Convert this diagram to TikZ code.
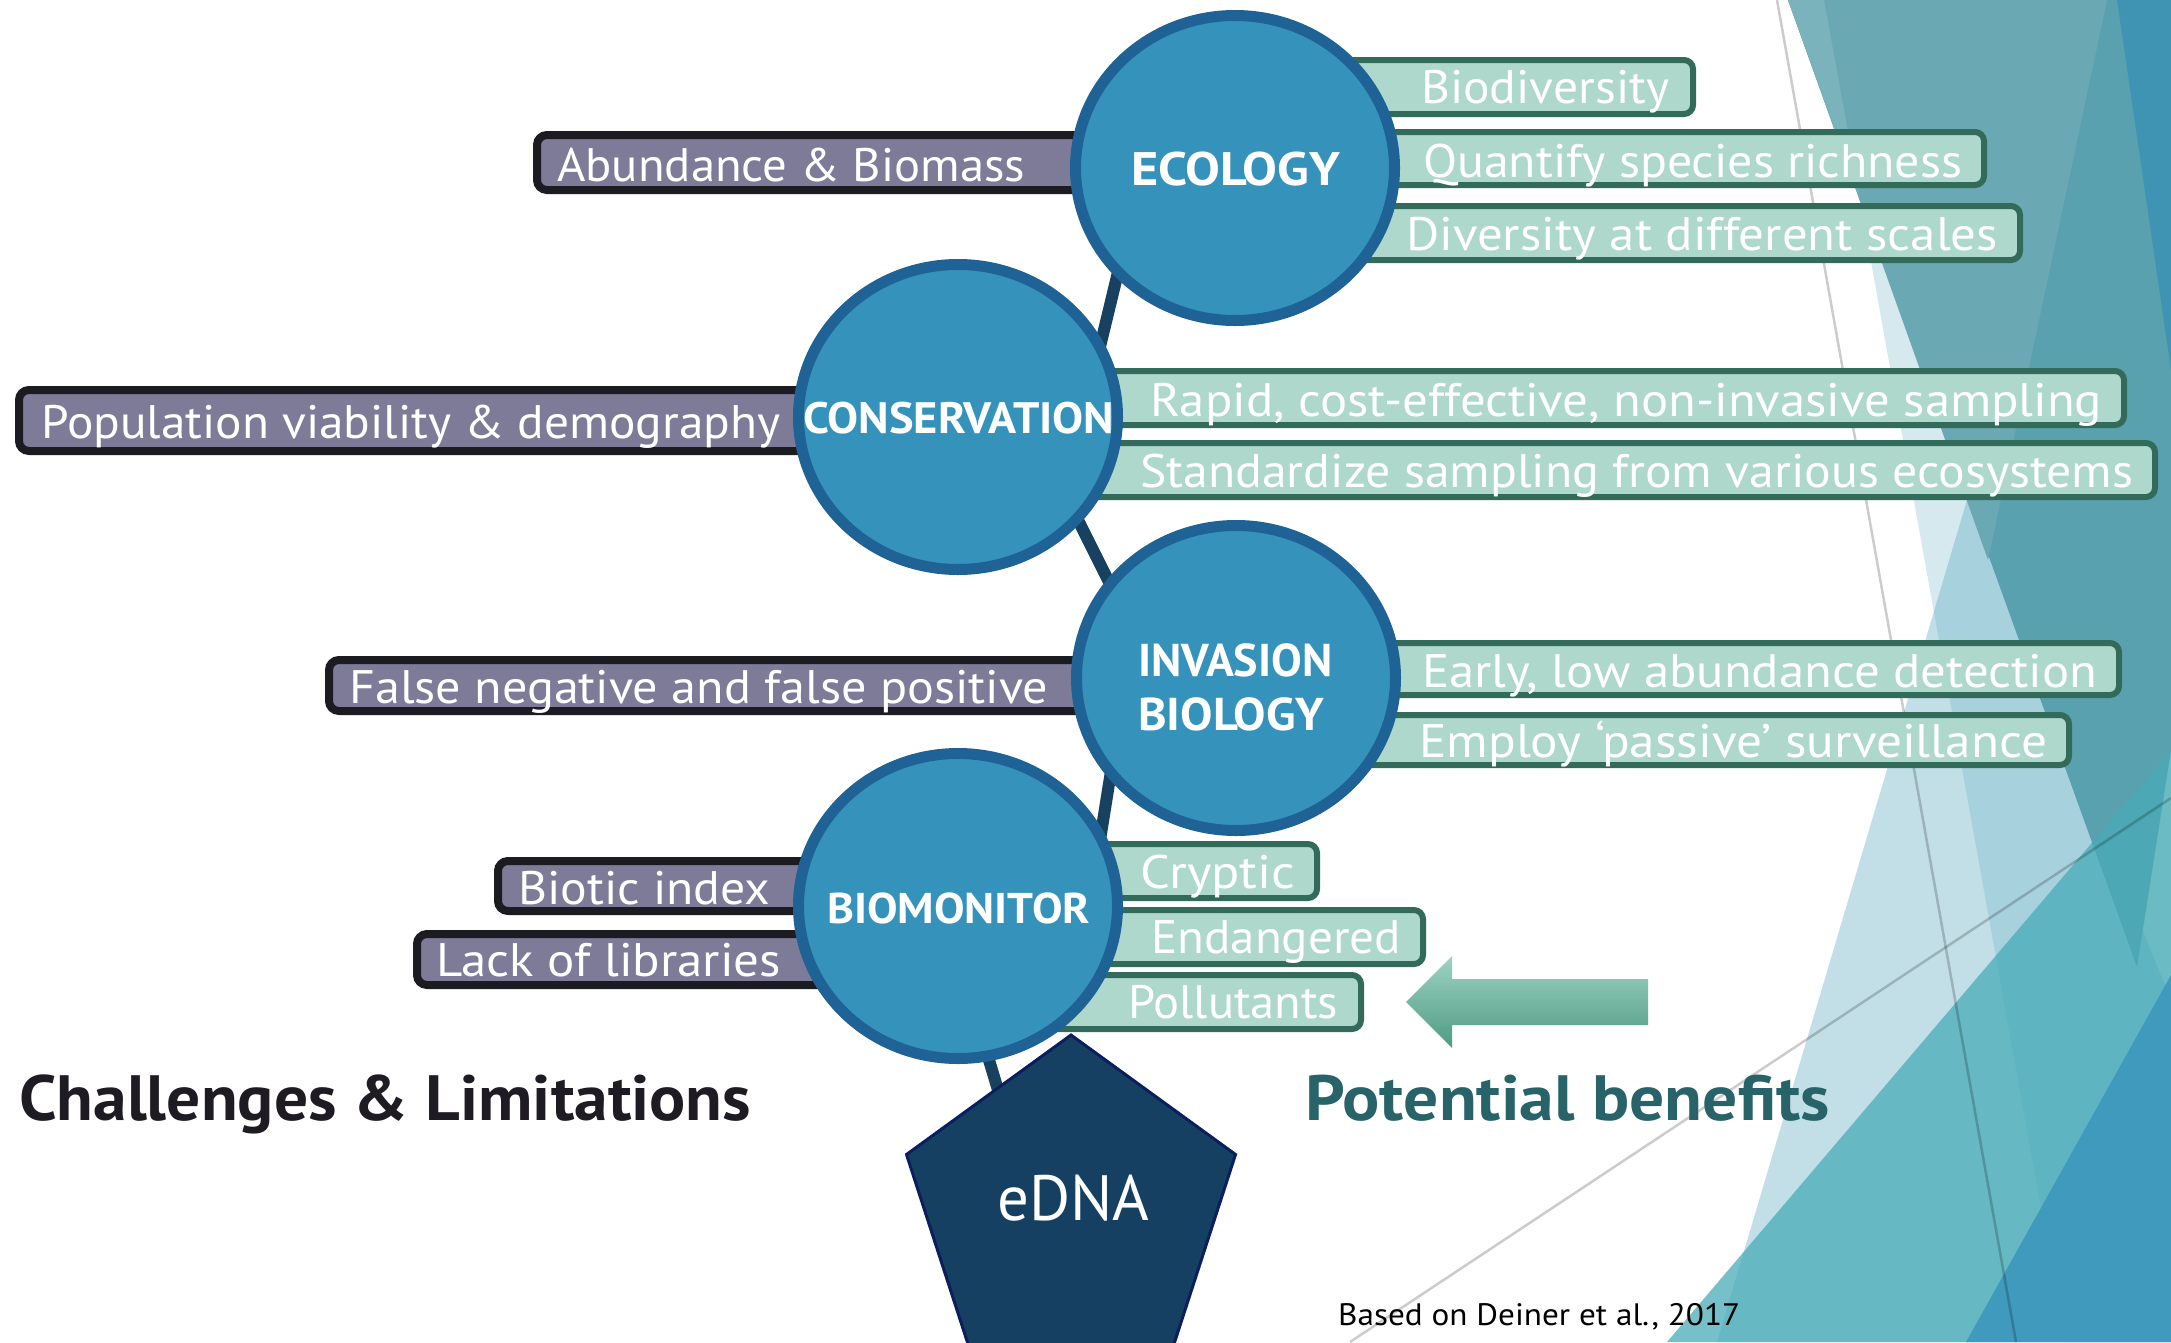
\documentclass[tikz,border=0pt]{standalone}
\usepackage{fontspec}
\setmainfont{PT Sans}
\usepackage{graphicx}
\usetikzlibrary{shapes.geometric}
\definecolor{cfill}{HTML}{3593BB}
\definecolor{cborder}{HTML}{1F6295}
\definecolor{spine}{HTML}{17415F}
\definecolor{pentfill}{HTML}{164062}
\definecolor{pentborder}{HTML}{0B1F5E}
\definecolor{gfill}{HTML}{ADD8CB}
\definecolor{gborder}{HTML}{336B5A}
\definecolor{pfill}{HTML}{7E7B99}
\definecolor{pborder}{HTML}{1D1B22}
\definecolor{chal}{HTML}{1E1B22}
\definecolor{pot}{HTML}{276369}
\definecolor{tealA}{HTML}{5AA1AF}
\definecolor{tealB}{HTML}{6AA9B3}
\definecolor{tealC}{HTML}{7AB3BB}
\definecolor{blueS}{HTML}{3F94B3}
\definecolor{lightS}{HTML}{5FABC3}
\definecolor{midS}{HTML}{46ABB7}
\definecolor{darkS}{HTML}{3F9ABD}
\definecolor{arrtop}{HTML}{9DD3C3}
\definecolor{arrbot}{HTML}{4E9A82}
\newcommand{\fw}[2]{\resizebox{#1pt}{\height}{#2}}
\begin{document}
\begin{tikzpicture}[x=1pt,y=-1pt,
  gbox/.style={draw=gborder, fill=gfill, line width=6pt, rounded corners=9pt, inner sep=0pt},
  pbox/.style={draw=pborder, fill=pfill, line width=8pt, rounded corners=10pt, inner sep=0pt},
  circ/.style={ellipse, draw=cborder, fill=cfill, line width=11pt, inner sep=0pt, minimum width=319pt, minimum height=305pt},
  spineline/.style={draw=spine, line width=12pt},
  wtxt/.style={text=white, anchor=base west, inner sep=0pt, font=\fontsize{47}{50}\selectfont},
  ctxt/.style={text=white, anchor=base west, inner sep=0pt},
  thin/.style={draw=black, draw opacity=0.2, line width=2.5pt}
]
\useasboundingbox (0,0) rectangle (2171,1342);
\fill[white] (0,0) rectangle (2171,1342);
% background facets
\begin{scope}
\clip (0,0) rectangle (2171,1342);
\fill[lightS, fill opacity=0.26] (1824,0) -- (2171,0) -- (2171,1342) -- (2065,1342) -- cycle;
\fill[lightS, fill opacity=0.38] (1967,500) -- (2171,1000) -- (2171,1342) -- (1717,1342) -- cycle;
\fill[tealA] (1788,0) -- (2171,0) -- (2171,750) -- (2137,967) -- cycle;
\fill[tealB] (1788,0) -- (2107,0) -- (1988,560) -- cycle;
\fill[tealC] (1788,0) -- (1824,0) -- (1860,198) -- cycle;
\fill[blueS] (2117,0) -- (2171,0) -- (2171,370) -- cycle;
\fill[midS, fill opacity=0.74] (1667,1342) -- (2171,750) -- (2171,1342) -- cycle;
\fill[darkS] (1966,1342) -- (2171,975) -- (2171,1342) -- cycle;
\coordinate (g1a) at (1777,0);
\coordinate (g1b) at (2016,1342);
\coordinate (g2a) at (1350,1342);
\coordinate (g2b) at (2171,798);
\draw[thin] (g1a) -- (g1b);
\draw[thin] (g2a) -- (g2b);
\end{scope}
% spine
\coordinate (s1a) at (1150,140);
\coordinate (s1b) at (1075,450);
\coordinate (s2a) at (1038,440);
\coordinate (s2b) at (1158,680);
\coordinate (s3a) at (1124,690);
\coordinate (s3b) at (1084,940);
\coordinate (s4a) at (950,930);
\coordinate (s4b) at (1019,1160);
\draw[spineline] (s1a) -- (s1b);
\draw[spineline] (s2a) -- (s2b);
\draw[spineline] (s3a) -- (s3b);
\draw[spineline] (s4a) -- (s4b);
% green boxes
\node[gbox, minimum width=440pt, minimum height=54pt] (gb1) at (1473,87) {};
\node[gbox, minimum width=731pt, minimum height=53pt] (gb2) at (1618.5,158.5) {};
\node[gbox, minimum width=767pt, minimum height=54pt] (gb3) at (1636.5,233) {};
\node[gbox, minimum width=1121pt, minimum height=54pt] (gb4) at (1563.5,398) {};
\node[gbox, minimum width=1152pt, minimum height=54pt] (gb5) at (1579,470) {};
\node[gbox, minimum width=866pt, minimum height=52pt] (gb6) at (1686,669) {};
\node[gbox, minimum width=816pt, minimum height=50pt] (gb7) at (1661,740) {};
\node[gbox, minimum width=314pt, minimum height=54pt] (gb8) at (1160,871) {};
\node[gbox, minimum width=420pt, minimum height=54pt] (gb9) at (1213,937) {};
\node[gbox, minimum width=358pt, minimum height=54pt] (gb10) at (1182,1002) {};
% purple boxes
\node[pbox, minimum width=609pt, minimum height=55pt] (pb1) at (841.5,162.5) {};
\node[pbox, minimum width=857pt, minimum height=61pt] (pb2) at (447.5,420.5) {};
\node[pbox, minimum width=817pt, minimum height=51pt] (pb3) at (737.5,685.5) {};
\node[pbox, minimum width=378pt, minimum height=50pt] (pb4) at (687,886) {};
\node[pbox, minimum width=459pt, minimum height=51pt] (pb5) at (646.5,959.5) {};
% circles
\node[circ] (eco) at (1235,168) {};
\node[circ] (cons) at (958,417) {};
\node[circ] (inv) at (1236,678) {};
\node[circ] (bio) at (958,906) {};
% pentagon
\fill[pentfill, draw=pentborder, line width=3pt] (1071,1035) -- (1235.5,1154.5) -- (1172.7,1348) -- (969.3,1348) -- (906.5,1154.5) -- cycle;
% arrow
\shade[top color=arrtop, bottom color=arrbot] (1406,1002) -- (1452,956) -- (1452,979) -- (1648,979) -- (1648,1025) -- (1452,1025) -- (1452,1048) -- cycle;
% green texts
\node[wtxt] (tg1) at (1421,103) {\fw{248}{Biodiversity}};
\node[wtxt] (tg2) at (1423,177) {\fw{539}{Quantify species richness}};
\node[wtxt] (tg3) at (1406,250) {\fw{592}{Diversity at different scales}};
\node[wtxt] (tg4) at (1150,416) {\fw{952}{Rapid, cost-effective, non-invasive sampling}};
\node[wtxt] (tg5) at (1140,487) {\fw{993}{Standardize sampling from various ecosystems}};
\node[wtxt] (tg6) at (1422,687) {\fw{675}{Early, low abundance detection}};
\node[wtxt] (tg7) at (1419,757) {\fw{628}{Employ ‘passive’ surveillance}};
\node[wtxt] (tg8) at (1140,888) {\fw{155}{Cryptic}};
\node[wtxt] (tg9) at (1151,953) {\fw{250}{Endangered}};
\node[wtxt] (tg10) at (1128,1018) {\fw{210}{Pollutants}};
% purple texts
\node[wtxt] (tp1) at (557,181) {\fw{468}{Abundance \& Biomass}};
\node[wtxt] (tp2) at (41,438) {\fw{739}{Population viability \& demography}};
\node[wtxt] (tp3) at (349,703) {\fw{699}{False negative and false positive}};
\node[wtxt] (tp4) at (518,904) {\fw{252}{Biotic index}};
\node[wtxt] (tp5) at (436,976) {\fw{345}{Lack of libraries}};
% circle labels
\node[ctxt, font=\fontsize{47}{50}\selectfont\bfseries] (teco) at (1131,185) {\fw{209}{ECOLOGY}};
\node[ctxt, font=\fontsize{44}{48}\selectfont\bfseries] (tcons) at (803,433) {\fw{311}{CONSERVATION}};
\node[ctxt, font=\fontsize{46}{50}\selectfont\bfseries] (tinv1) at (1138,676) {\fw{194}{INVASION}};
\node[ctxt, font=\fontsize{46}{50}\selectfont\bfseries] (tinv2) at (1138,730) {\fw{186}{BIOLOGY}};
\node[ctxt, font=\fontsize{43}{46}\selectfont\bfseries] (tbio) at (827,923) {\fw{263}{BIOMONITOR}};
\node[ctxt, font=\fontsize{64}{70}\selectfont] (edna) at (997,1220) {\fw{152}{eDNA}};
% headers
\node[anchor=base west, inner sep=0pt, text=chal, font=\fontsize{64}{70}\selectfont\bfseries] (chl) at (19,1120) {\fw{732}{Challenges \& Limitations}};
\node[anchor=base west, inner sep=0pt, text=pot, font=\fontsize{64}{70}\selectfont\bfseries] (ptb) at (1305,1120) {\fw{525}{Potential benefits}};
\node[anchor=base west, inner sep=0pt, text=black, font=\fontsize{31}{34}\selectfont] (src) at (1338,1325) {\fw{402}{Based on Deiner et al., 2017}};
\end{tikzpicture}
\end{document}
